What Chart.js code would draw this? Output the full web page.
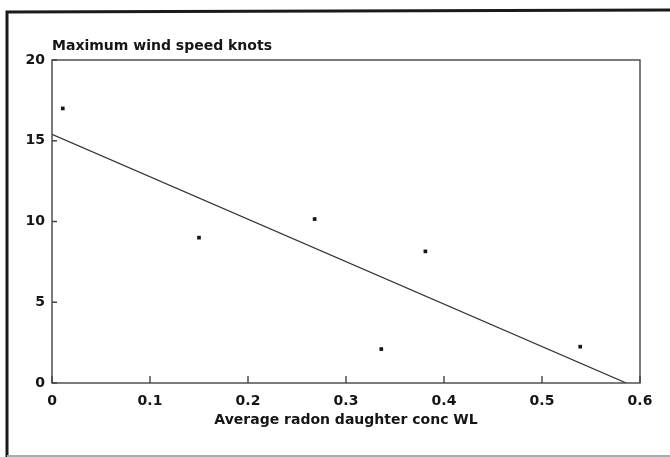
<!DOCTYPE html>
<html>
<head>
<meta charset="utf-8">
<script src="https://cdn.jsdelivr.net/npm/chart.js@4.4.1/dist/chart.umd.min.js"></script>
<style>
  html, body { margin: 0; padding: 0; background: #fff; }
  #wrap { width: 670px; height: 457px; }
</style>
</head>
<body>
<div id="wrap"><canvas id="radon" width="670" height="457"></canvas></div>
<script>
// measured samples: radon daughter concentration (WL) vs. max wind speed (knots)
const radonX = [0.011, 0.150, 0.268, 0.336, 0.381, 0.539];
const windY = [17.0, 9.0, 10.15, 2.1, 8.15, 2.25];

// least squares fit, drawn between its two end points
const fitX = [0, 0.586];
const fitY = [15.4, 0];

const xTicks = [0, 0.1, 0.2, 0.3, 0.4, 0.5, 0.6];
const yTicks = [0, 5, 10, 15, 20];

const yTitle = "Maximum wind speed knots";
const xTitle = "Average radon daughter conc WL";

const ink = "#151515";
const fontFamily = "'DejaVu Sans', 'Liberation Sans', Arial, sans-serif";
const axisFont = { family: fontFamily, size: 14, weight: "bold" };

// page frame, plot box, inward tick marks and the y caption
const framePlugin = {
    id: "frame",
    beforeDraw(chart) {
        const ctx = chart.ctx;
        ctx.save();
        ctx.fillStyle = "#fff";
        ctx.fillRect(0, 0, chart.width, chart.height);
        ctx.strokeStyle = "#1a1a1a";
        ctx.lineWidth = 3;
        ctx.beginPath();
        ctx.moveTo(7, chart.height);
        ctx.lineTo(7, 12);
        ctx.lineTo(chart.width, 10);
        ctx.stroke();
        ctx.strokeStyle = "#aaa";
        ctx.lineWidth = 2;
        ctx.beginPath();
        ctx.moveTo(7, chart.height - 1);
        ctx.lineTo(chart.width, chart.height - 1);
        ctx.stroke();
        ctx.restore();
    },
    afterDatasetsDraw(chart) {
        const ctx = chart.ctx;
        const a = chart.chartArea;
        const xs = chart.scales.x, ys = chart.scales.y;
        ctx.save();
        ctx.strokeStyle = "#444";
        ctx.lineWidth = 1.4;
        ctx.strokeRect(a.left, a.top, a.right - a.left, a.bottom - a.top);
        ctx.beginPath();
        xTicks.forEach(v => {
            const px = xs.getPixelForValue(v);
            ctx.moveTo(px, a.bottom);
            ctx.lineTo(px, a.bottom - 7);
        });
        yTicks.forEach(v => {
            const py = ys.getPixelForValue(v);
            ctx.moveTo(a.left, py);
            ctx.lineTo(a.left + 5, py);
        });
        ctx.stroke();
        ctx.fillStyle = ink;
        ctx.font = "bold 14px " + fontFamily;
        ctx.textBaseline = "middle";
        ctx.textAlign = "left";
        ctx.fillText(yTitle, a.left, 46);
        ctx.restore();
    }
};

new Chart(document.getElementById("radon"), {
    type: "scatter",
    data: {
        datasets: [{
            label: "samples",
            data: radonX.map((x, i) => ({ x: x, y: windY[i] })),
            pointStyle: "rect",
            pointRadius: 2.6,
            backgroundColor: ink,
            borderColor: ink,
            borderWidth: 0
        }, {
            label: "fit",
            type: "line",
            data: fitX.map((x, i) => ({ x: x, y: fitY[i] })),
            borderColor: "#333",
            borderWidth: 1.3,
            pointRadius: 0,
            fill: false
        }]
    },
    options: {
        responsive: false,
        animation: false,
        layout: { padding: { left: 0, top: 60, right: 30, bottom: 0 } },
        plugins: {
            legend: { display: false },
            tooltip: { enabled: false }
        },
        scales: {
            x: {
                type: "linear",
                min: 0,
                max: 0.6,
                afterBuildTicks: s => { s.ticks = xTicks.map(v => ({ value: v })); },
                afterFit: s => { s.height = 74; },
                grid: { display: false, drawTicks: false },
                border: { display: false },
                ticks: {
                    padding: 10,
                    color: ink,
                    font: axisFont,
                    maxRotation: 0,
                    callback: v => String(Number(v.toFixed(1)))
                },
                title: {
                    display: true,
                    text: xTitle,
                    color: ink,
                    font: axisFont,
                    padding: { top: 0, bottom: 28 }
                }
            },
            y: {
                type: "linear",
                min: 0,
                max: 20,
                afterBuildTicks: s => { s.ticks = yTicks.map(v => ({ value: v })); },
                afterFit: s => { s.width = 52; },
                grid: { display: false, drawTicks: false },
                border: { display: false },
                ticks: {
                    padding: 7,
                    color: ink,
                    font: axisFont
                }
            }
        }
    },
    plugins: [framePlugin]
});
</script>
</body>
</html>
